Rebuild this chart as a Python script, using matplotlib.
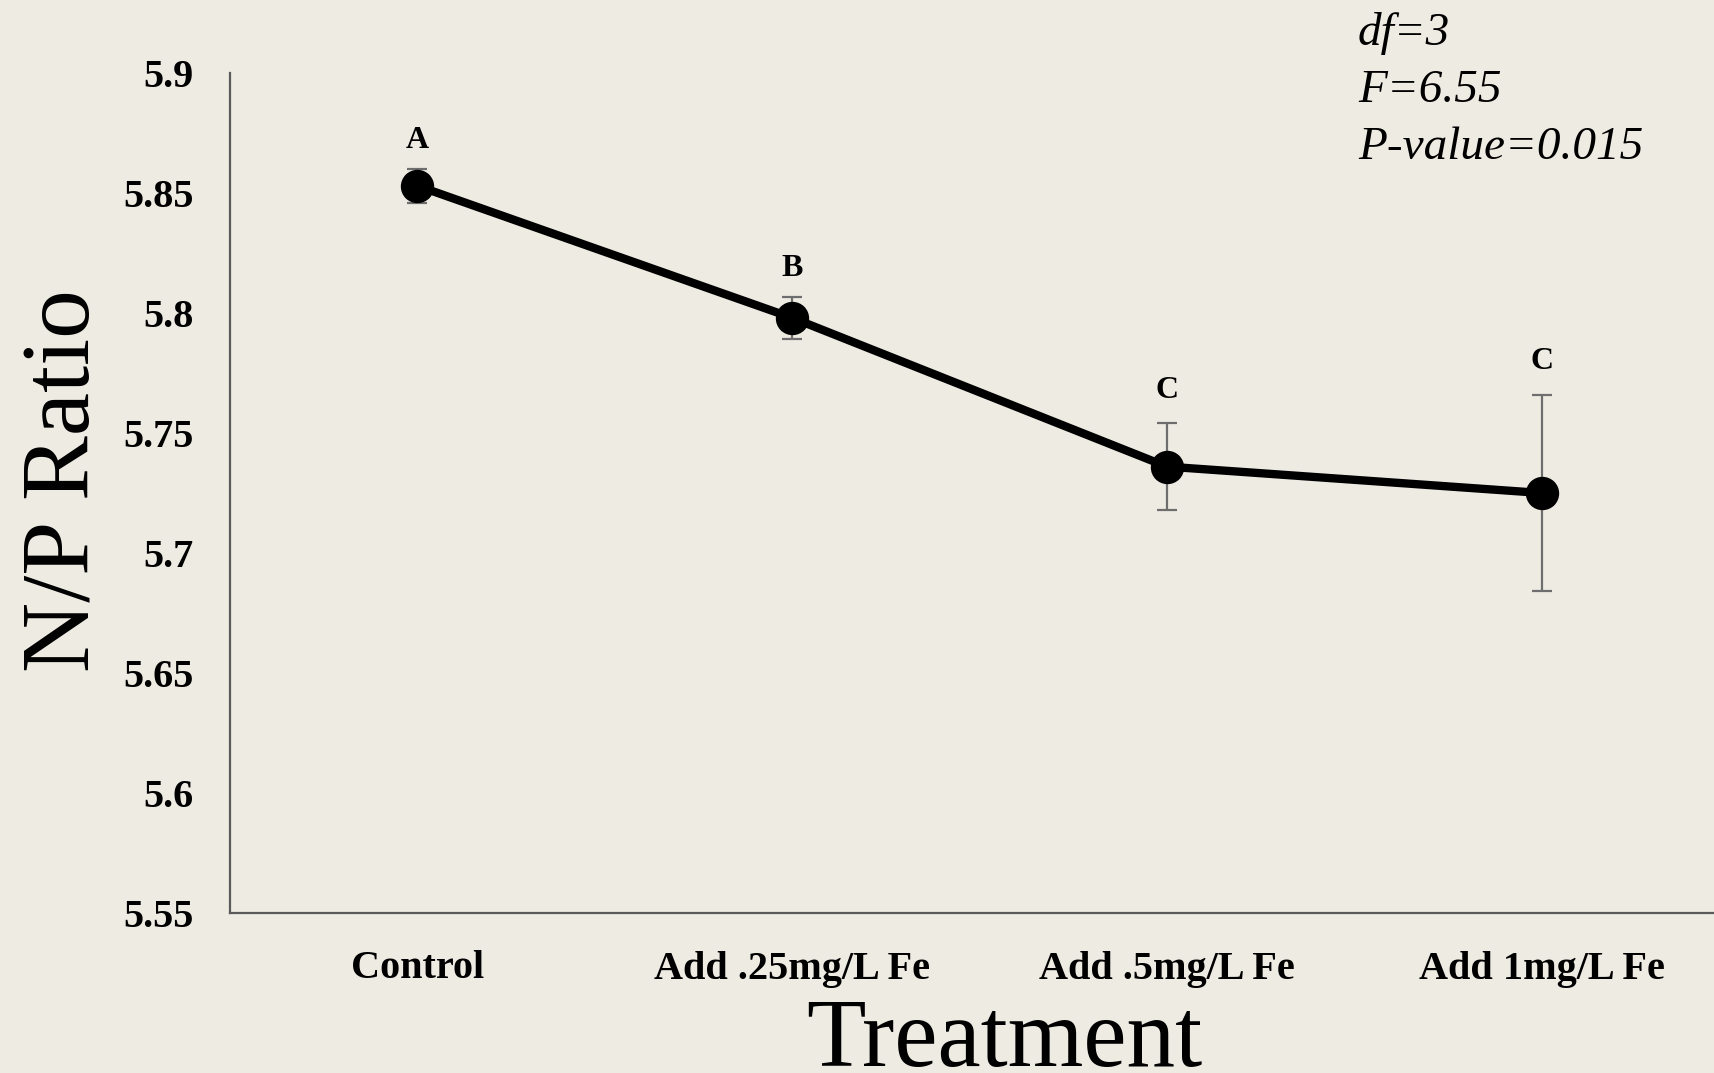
import matplotlib
matplotlib.use("Agg")
import matplotlib.pyplot as plt

# data
treatments = ["Control", "Add .25mg/L Fe", "Add .5mg/L Fe", "Add 1mg/L Fe"]
np_ratio = [5.853, 5.798, 5.736, 5.725]
np_err = [0.007, 0.0087, 0.018, 0.041]
letters = ["A", "B", "C", "C"]
stats_lines = ["df=3", "F=6.55", "P-value=0.015"]
yticks = [5.55, 5.6, 5.65, 5.7, 5.75, 5.8, 5.85, 5.9]
ytick_labels = ["5.55", "5.6", "5.65", "5.7", "5.75", "5.8", "5.85", "5.9"]

BG = "#eeebe3"
SERIF = "Liberation Serif"

W, H = 1714, 1073
fig = plt.figure(figsize=(W / 100, H / 100), dpi=100, facecolor=BG)
ax = fig.add_axes([230 / W, 1 - 913 / H, 1 - 230 / W, (913 - 73) / H], facecolor=BG)

x = list(range(len(treatments)))
ax.errorbar(x, np_ratio, yerr=np_err, fmt="none", ecolor="#6e6e6e",
            elinewidth=1.6, capsize=7, capthick=1.6, zorder=2)
ax.plot(x, np_ratio, "-o", color="black", lw=6, ms=23, zorder=3)

# significance letters above each point (baseline in data units)
label_y = [5.8688, 5.8156, 5.7646, 5.7765]
for xi, lt, ly in zip(x, letters, label_y):
    ax.text(xi, ly, lt, ha="center", va="baseline", fontsize=23,
            fontweight="bold", family=SERIF)

ax.set_xlim(-0.5, 3.46)
ax.set_ylim(5.55, 5.9)
ax.set_yticks(yticks)
ax.set_yticklabels(ytick_labels)
ax.set_xticks(x)
ax.set_xticklabels(treatments)
ax.tick_params(axis="both", length=0, labelsize=29)
ax.tick_params(axis="y", pad=26)
ax.tick_params(axis="x", pad=27)
for lab in ax.get_xticklabels() + ax.get_yticklabels():
    lab.set_fontfamily(SERIF)
    lab.set_fontweight("bold")

for s in ("top", "right"):
    ax.spines[s].set_visible(False)
for s in ("left", "bottom"):
    ax.spines[s].set_color("#5a5a5a")
    ax.spines[s].set_linewidth(1.6)

fig.text(66 / W, 1 - 481 / H, "N/P Ratio", rotation=90, ha="center", va="center",
         fontsize=70, family=SERIF)
fig.text(1004 / W, 1 - 1066 / H, "Treatment", ha="center", va="baseline",
         fontsize=70, family=SERIF)

for i, line in enumerate(stats_lines):
    fig.text(1358 / W, 1 - (45 + 57 * i) / H, line, ha="left", va="baseline",
             fontsize=34, style="italic", family=SERIF)

fig.savefig("out.png", dpi=100, facecolor=BG)
